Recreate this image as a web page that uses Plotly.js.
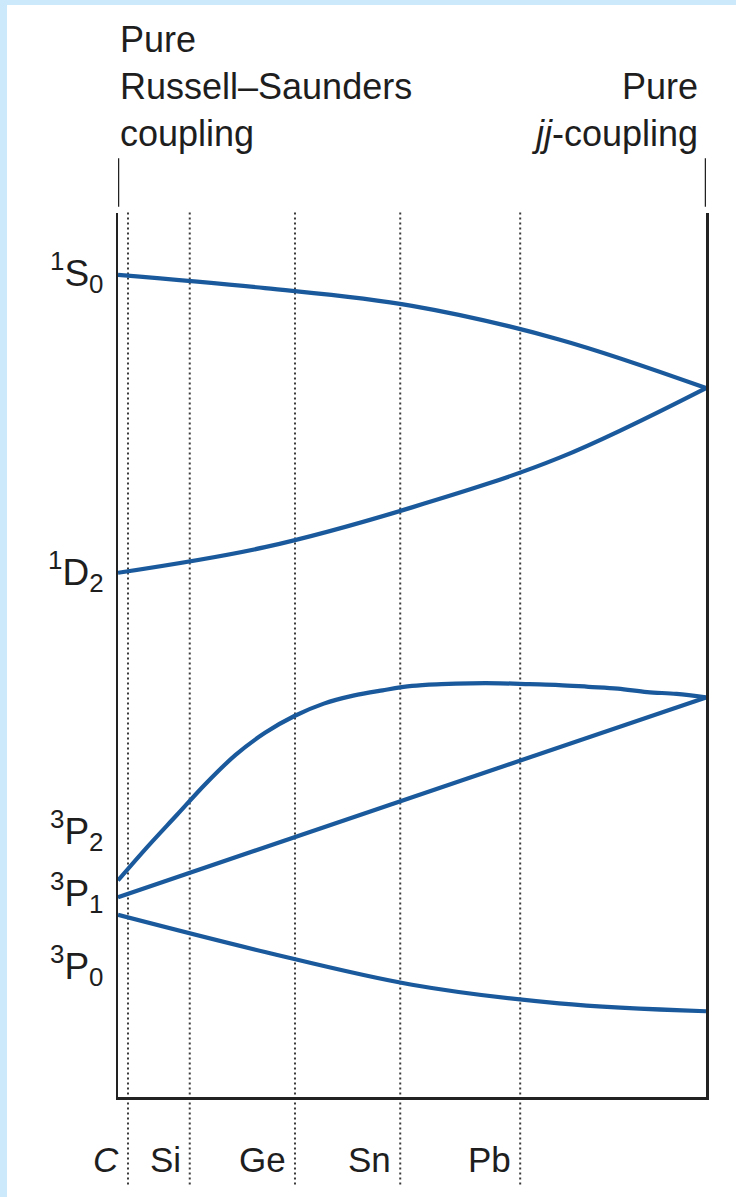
<!DOCTYPE html>
<html>
<head>
<meta charset="utf-8">
<script src="https://cdn.plot.ly/plotly-3.0.1.min.js"></script>
<style>
  html, body { margin: 0; padding: 0; background: #cce9fc; width: 736px; height: 1197px; overflow: hidden; }
  #chart { position: absolute; left: 7px; top: 5px; width: 729px; height: 1192px; background: #ffffff; }
</style>
</head>
<body>
<div id="chart"></div>
<script>
// Coupling parameter: 0 = pure Russell–Saunders, 1 = pure jj-coupling
const couplingS0 = [0, 0.25, 0.5, 0.75, 1];
const energyS0   = [9.30, 9.15, 8.95, 8.57, 8.02];

const couplingD2 = [0, 0.25, 0.5, 0.75, 1];
const energyD2   = [5.93, 6.22, 6.67, 7.23, 8.02];

const couplingP2 = [0, 0.05, 0.1, 0.15, 0.2, 0.25, 0.3, 0.35, 0.4, 0.45, 0.5,
                    0.55, 0.6, 0.65, 0.7, 0.75, 0.8, 0.85, 0.9, 0.95, 1];
const energyP2   = [2.45, 2.83, 3.19, 3.55, 3.87, 4.12, 4.31, 4.45, 4.54, 4.60, 4.65,
                    4.67, 4.68, 4.68, 4.67, 4.66, 4.64, 4.62, 4.58, 4.56, 4.52];

const couplingP1 = [0, 1];
const energyP1   = [2.26, 4.52];

const couplingP0 = [0, 0.25, 0.5, 0.75, 1];
const energyP0   = [2.06, 1.64, 1.27, 1.06, 0.97];

// Elements of group 14 placed along the coupling axis
const elements   = ['<i>C</i>', 'Si', 'Ge', 'Sn', 'Pb'];
const elementPos = [0.017, 0.122, 0.301, 0.480, 0.684];

// Term labels on the left edge
const stateLabels = ['<sup>1</sup>S<sub>0</sub>', '<sup>1</sup>D<sub>2</sub>', '<sup>3</sup>P<sub>2</sub>', '<sup>3</sup>P<sub>1</sub>', '<sup>3</sup>P<sub>0</sub>'];
const stateLabelE = [9.33, 5.94, 3.02, 2.31, 1.49];

const lineColor = '#1a5a9c';
const fontFam = '"Liberation Sans", Arial, Helvetica, sans-serif';
const txtColor = '#1e1e1e';

const series = [
  [couplingS0, energyS0],
  [couplingD2, energyD2],
  [couplingP2, energyP2],
  [couplingP1, energyP1],
  [couplingP0, energyP0]
];

const traces = series.map(([x, y]) => ({
  x: x, y: y, type: 'scatter', mode: 'lines',
  line: { color: lineColor, width: 4.2, shape: 'spline', smoothing: 1 },
  hoverinfo: 'skip', showlegend: false
}));

const shapes = [];
elementPos.forEach(p => {
  shapes.push({
    type: 'line', xref: 'x', yref: 'paper', x0: p, x1: p, y0: -0.099, y1: 1.003,
    line: { color: '#3a3a3a', width: 2, dash: '2px,3px' }, layer: 'below'
  });
});
// bracket ticks above the frame
[0, 1].forEach(p => {
  shapes.push({
    type: 'line', xref: 'x', yref: 'paper', x0: p, x1: p, y0: 1.007, y1: 1.062,
    line: { color: '#222222', width: 2.5 }
  });
});

const annotations = [];
elements.forEach((e, i) => {
  annotations.push({
    text: e, xref: 'x', yref: 'paper', x: elementPos[i], y: -0.071,
    xanchor: 'right', yanchor: 'middle', xshift: -7, showarrow: false,
    font: { family: fontFam, size: 35, color: txtColor }
  });
});
stateLabels.forEach((s, i) => {
  annotations.push({
    text: s, xref: 'x', yref: 'y', x: 0, y: stateLabelE[i],
    xanchor: 'right', yanchor: 'middle', xshift: -12, showarrow: false,
    font: { family: fontFam, size: 37, color: txtColor }
  });
});
annotations.push({
  text: 'Pure<br>Russell–Saunders<br>coupling', xref: 'paper', yref: 'paper',
  x: 0.0, y: 1.222, xanchor: 'left', yanchor: 'top', align: 'left', showarrow: false,
  font: { family: fontFam, size: 36, color: txtColor }
});
annotations.push({
  text: 'Pure<br><i>jj</i>-coupling', xref: 'paper', yref: 'paper',
  x: 0.99, y: 1.168, xanchor: 'right', yanchor: 'top', align: 'right', showarrow: false,
  font: { family: fontFam, size: 36, color: txtColor }
});

const layout = {
  width: 729, height: 1192,
  margin: { l: 111, r: 30, t: 208, b: 100 },
  paper_bgcolor: '#ffffff', plot_bgcolor: '#ffffff',
  xaxis: { range: [0, 1], showgrid: false, zeroline: false, showticklabels: false, ticks: '',
           showline: true, linecolor: '#222222', linewidth: 2.5 },
  yaxis: { range: [0, 10], showgrid: false, zeroline: false, showticklabels: false, ticks: '',
           showline: true, mirror: true, linecolor: '#222222', linewidth: 2.5 },
  shapes: shapes,
  annotations: annotations,
  showlegend: false
};

Plotly.newPlot('chart', traces, layout, { displayModeBar: false, staticPlot: true });
</script>
</body>
</html>
